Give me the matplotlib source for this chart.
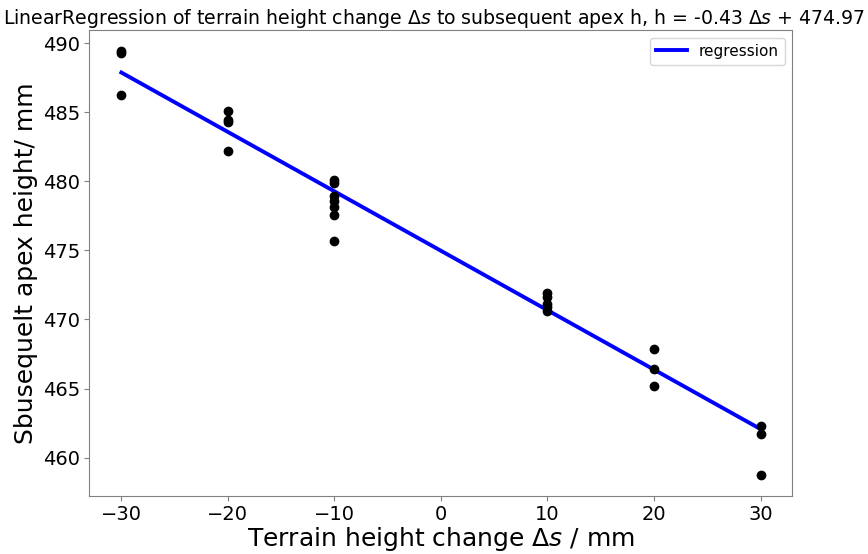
import numpy as np
import matplotlib.pyplot as plt

# terrain height change (mm) and measured apex height of the following hop (mm)
delta_s = [-30, -30, -30,
           -20, -20, -20, -20,
           -10, -10, -10, -10, -10, -10, -10,
           10, 10, 10, 10, 10,
           20, 20, 20,
           30, 30, 30]
apex_h = [489.42, 489.25, 486.26,
          485.05, 484.42, 484.27, 482.22,
          480.07, 479.85, 478.92, 478.55, 478.15, 477.55, 475.69,
          471.90, 471.65, 471.15, 470.90, 470.60,
          467.86, 466.45, 465.20,
          462.30, 461.72, 458.77]

# fitted line h = coef * ds + intercept
coef = -0.43
intercept = 474.97
fit_x = [-30, 30]

fig = plt.figure(figsize=(8.68, 5.54), dpi=100)
ax = fig.add_axes([0.103, 0.105, 0.81, 0.841])

ax.scatter(delta_s, apex_h, color='black', s=36, zorder=3)
fit_y = [coef * v + intercept for v in fit_x]
ax.plot(fit_x, fit_y, color='blue', linewidth=2.8, label='regression')

ax.set_title(r'LinearRegression of terrain height change $\Delta s$ to subsequent apex h, '
             r'h = %.2f $\Delta s$ + %.2f' % (coef, intercept),
             fontsize=13.6, x=0.49, pad=3)
ax.set_xlabel(r'Terrain height change $\Delta s$ / mm', fontsize=18, labelpad=1)
ax.set_ylabel('Sbusequelt apex height/ mm', fontsize=18)
ax.tick_params(labelsize=14, color='#808080', pad=3)
for sp in ax.spines.values():
    sp.set_color('#808080')
ax.legend(loc='upper right', fontsize=11)

fig.savefig('out.png', dpi=100)
